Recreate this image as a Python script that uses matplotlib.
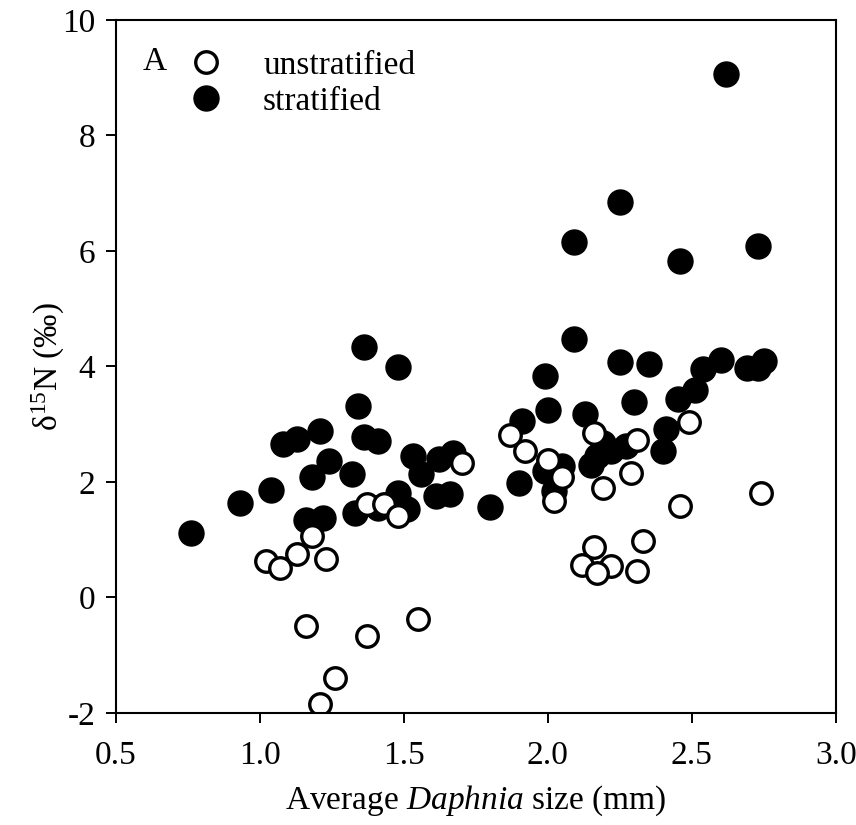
import matplotlib
matplotlib.use('Agg')
import matplotlib.pyplot as plt
from matplotlib.lines import Line2D

plt.rcParams['font.family'] = ['Liberation Serif', 'DejaVu Serif']
plt.rcParams['mathtext.fontset'] = 'custom'
plt.rcParams['mathtext.rm'] = 'Liberation Serif'
plt.rcParams['mathtext.it'] = 'Liberation Serif:italic'
plt.rcParams['axes.unicode_minus'] = False

# Datos
strat_x = [0.76, 0.93, 1.04, 1.08, 1.13, 1.21, 1.24, 1.18, 1.16, 1.22,
           1.32, 1.34, 1.36, 1.36, 1.41, 1.33, 1.48, 1.48, 1.51, 1.41,
           1.53, 1.56, 1.62, 1.67, 1.61, 1.66, 1.80, 1.90, 1.91, 1.99,
           2.00, 1.99, 2.05, 2.02, 2.09, 2.09, 2.13, 2.15, 2.17, 2.19,
           2.22, 2.25, 2.25, 2.30, 2.35, 2.41, 2.40, 2.45, 2.46, 2.51,
           2.54, 2.60, 2.62, 2.69, 2.73, 2.73, 2.75, 2.27]
strat_y = [1.12, 1.64, 1.86, 2.65, 2.74, 2.88, 2.37, 2.09, 1.35, 1.38,
           2.13, 3.32, 4.34, 2.77, 2.71, 1.47, 3.99, 1.81, 1.53, 1.55,
           2.45, 2.14, 2.40, 2.51, 1.76, 1.79, 1.57, 1.99, 3.06, 3.84,
           3.24, 2.19, 2.28, 1.84, 6.15, 4.47, 3.17, 2.30, 2.45, 2.68,
           2.54, 6.84, 4.08, 3.38, 4.04, 2.91, 2.54, 3.43, 5.83, 3.60,
           3.95, 4.11, 9.07, 3.98, 6.09, 3.98, 4.10, 2.62]

unstrat_x = [1.02, 1.07, 1.13, 1.18, 1.23, 1.16, 1.37, 1.26, 1.21, 1.37,
             1.43, 1.48, 1.55, 1.70, 1.87, 1.92, 2.00, 2.05, 2.02, 2.16,
             2.19, 2.29, 2.31, 2.16, 2.12, 2.22, 2.17, 2.33, 2.31, 2.49,
             2.46, 2.74]
unstrat_y = [0.63, 0.51, 0.75, 1.06, 0.66, -0.49, -0.66, -1.40, -1.85, 1.61,
             1.61, 1.41, -0.38, 2.32, 2.81, 2.54, 2.38, 2.08, 1.67, 2.85,
             1.90, 2.16, 2.72, 0.88, 0.56, 0.54, 0.43, 0.97, 0.45, 3.03,
             1.58, 1.81]

xticks = [0.5, 1.0, 1.5, 2.0, 2.5, 3.0]
yticks = [-2, 0, 2, 4, 6, 8, 10]

fig = plt.figure(figsize=(8.56, 8.25), dpi=100)
ax = fig.add_axes([0.1355, 0.1358, 0.841, 0.840])

# Primero los rellenos, luego los abiertos encima
ax.plot(strat_x, strat_y, 'o', color='black', markersize=18, linestyle='none')
ax.plot(unstrat_x, unstrat_y, 'o', markerfacecolor='white', markeredgecolor='black',
        markeredgewidth=2.4, markersize=15.5, linestyle='none')

ax.set_xlim(0.5, 3.0)
ax.set_ylim(-2, 10)
ax.set_xticks(xticks)
ax.set_xticklabels(['%.1f' % t for t in xticks])
ax.set_yticks(yticks)
ax.set_yticklabels([str(t) for t in yticks])
ax.tick_params(direction='out', length=7, width=1.4, labelsize=24)
ax.tick_params(axis='x', pad=13)
ax.tick_params(axis='y', pad=8)
for s in ax.spines.values():
    s.set_linewidth(1.5)

ax.set_xlabel('Average $\\it{Daphnia}$ size (mm)', fontsize=24, labelpad=9)
ax.set_ylabel('δ$^{15}$N (‰)', fontsize=24, labelpad=-4)

# Leyenda
h1 = Line2D([], [], marker='o', linestyle='none', markerfacecolor='white',
            markeredgecolor='black', markeredgewidth=2.4, markersize=15.5)
h2 = Line2D([], [], marker='o', linestyle='none', color='black', markersize=18)
ax.legend([h1, h2], ['unstratified', 'stratified'], loc='upper left',
          bbox_to_anchor=(0.046, 0.99), frameon=False, fontsize=24,
          handletextpad=0.72, labelspacing=0.16, borderaxespad=0.3)
ax.text(0.0375, 0.939, 'A', transform=ax.transAxes, fontsize=24,
        ha='left', va='center')

fig.savefig('out.png', dpi=100)
